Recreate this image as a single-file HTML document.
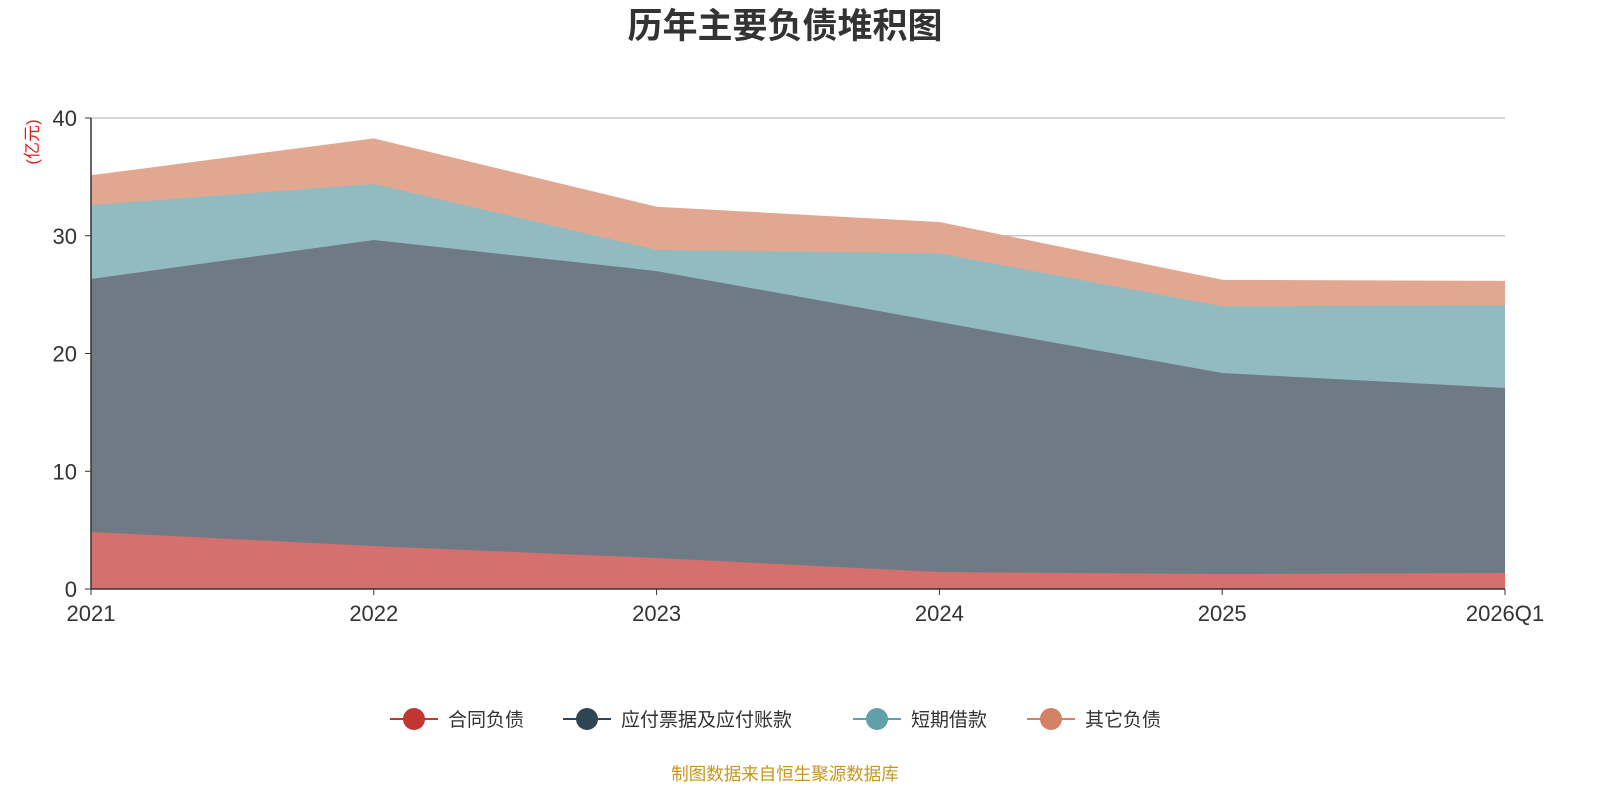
<!DOCTYPE html>
<html><head><meta charset="utf-8">
<style>
body{margin:0;background:#fff;font-family:"Liberation Sans","Noto Sans CJK SC",sans-serif;}
#wrap{position:relative;width:1600px;height:800px;overflow:hidden;}
</style></head>
<body>
<div id="wrap">
<svg id="chart" width="1600" height="800" xmlns="http://www.w3.org/2000/svg"></svg>
</div>
<script>
const categories = ["2021","2022","2023","2024","2025","2026Q1"];
const seriesNames = ["合同负债","应付票据及应付账款","短期借款","其它负债"];
const contractLiab = [4.84,3.65,2.63,1.44,1.27,1.36];
const payables = [21.49,25.99,24.37,21.24,17.07,15.71];
const shortLoans = [6.27,4.76,1.8,5.82,5.66,7.03];
const otherLiab = [2.47,3.8,3.6,2.6,2.2,2.0];
const yTicks = [0,10,20,30,40];

const NS="http://www.w3.org/2000/svg";
const svg=document.getElementById('chart');
const X0=91,X1=1505,Y0=589,Y1=118,YMAX=40;
const xs=i=>X0+(X1-X0)*i/(categories.length-1);
const ys=v=>Y0-(Y0-Y1)*v/YMAX;
function mk(t,a,txt){const e=document.createElementNS(NS,t);for(const k in a)e.setAttribute(k,a[k]);if(txt!==undefined)e.textContent=txt;svg.appendChild(e);return e;}

let t=mk('text',{x:785,y:38,'text-anchor':'middle','font-size':35,'font-weight':'bold',fill:'#333'},'历年主要负债堆积图');


t=mk('text',{x:38,y:142,'text-anchor':'middle','font-size':17,fill:'#e02020',transform:'rotate(-90 38 142)'},'(亿元)');



yTicks.forEach(v=>{
  if(v>0){const g=mk('line',{x1:X0,x2:X1,y1:ys(v),y2:ys(v),stroke:'#c8c8c8','stroke-width':1.5});
  
  }
  const tk=mk('line',{x1:X0-6,x2:X0,y1:ys(v),y2:ys(v),stroke:'#333'});
  
  
  const l=mk('text',{x:X0-14,y:ys(v)+8,'text-anchor':'end','font-size':22,fill:'#333'},String(v));
  
  
});

const series=[contractLiab,payables,shortLoans,otherLiab];
const fills=['#d4706e','#6e7b86','#91bbc1','#e2a790'];
const strokes=['#c23531','#2f4554','#61a0a8','#d48265'];
let base=categories.map(()=>0);
series.forEach((s,si)=>{
  const top=base.map((b,i)=>b+s[i]);
  let d='M'+categories.map((c,i)=>xs(i)+','+ys(top[i])).join(' L');
  for(let i=categories.length-1;i>=0;i--) d+=' L'+xs(i)+','+ys(base[i]);
  d+=' Z';
  const p=mk('path',{d:d,fill:fills[si],stroke:'none'});
  
  
  const ln=mk('polyline',{points:categories.map((c,i)=>xs(i)+','+ys(top[i])).join(' '),fill:'none',stroke:fills[si],'stroke-width':1.5});
  
  
  base=top;
});

let ax=mk('line',{x1:X0,x2:X0,y1:Y1,y2:Y0,stroke:'#333','stroke-width':1.5});


ax=mk('line',{x1:X0,x2:X1,y1:Y0,y2:Y0,stroke:'#333','stroke-width':1.5});


categories.forEach((c,i)=>{
  const tk=mk('line',{x1:xs(i),x2:xs(i),y1:Y0,y2:Y0+6,stroke:'#333'});
  
  
  const l=mk('text',{x:xs(i),y:621,'text-anchor':'middle','font-size':22,fill:'#333'},c);
  
  
});

const legX=[390,563,853,1027];
seriesNames.forEach((n,i)=>{
  const g=document.createElementNS(NS,'g');svg.appendChild(g);
  
  
  const l=document.createElementNS(NS,'line');
  l.setAttribute('x1',legX[i]);l.setAttribute('x2',legX[i]+48);l.setAttribute('y1',719);l.setAttribute('y2',719);l.setAttribute('stroke',strokes[i]);l.setAttribute('stroke-width',2);g.appendChild(l);
  const c=document.createElementNS(NS,'circle');
  c.setAttribute('cx',legX[i]+24);c.setAttribute('cy',719);c.setAttribute('r',11);c.setAttribute('fill',strokes[i]);g.appendChild(c);
  const tx=document.createElementNS(NS,'text');
  tx.setAttribute('x',legX[i]+58);tx.setAttribute('y',726);tx.setAttribute('font-size',19);tx.setAttribute('fill','#333');tx.textContent=n;g.appendChild(tx);
});

t=mk('text',{x:785,y:780,'text-anchor':'middle','font-size':17.5,fill:'#c8961e'},'制图数据来自恒生聚源数据库');


</script>
</body></html>
